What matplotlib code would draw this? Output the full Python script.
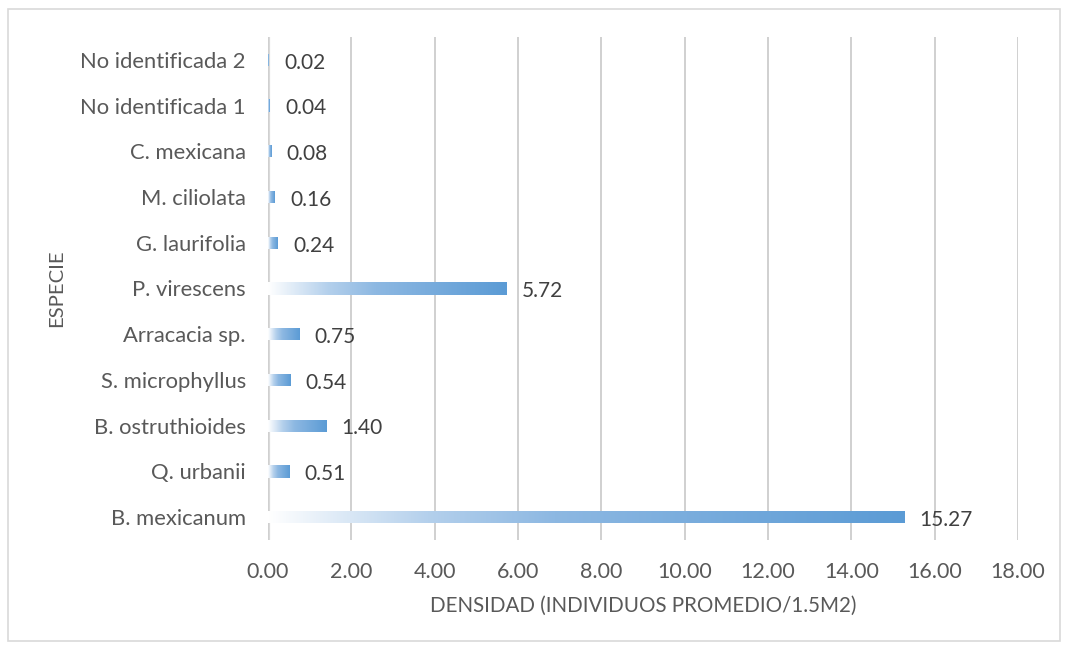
import matplotlib.pyplot as plt
import numpy as np
from matplotlib.colors import LinearSegmentedColormap
from matplotlib.patches import Rectangle

especies = ["B. mexicanum", "Q. urbanii", "B. ostruthioides", "S. microphyllus",
            "Arracacia sp.", "P. virescens", "G. laurifolia", "M. ciliolata",
            "C. mexicana", "No identificada 1", "No identificada 2"]
densidad = [15.27, 0.51, 1.40, 0.54, 0.75, 5.72, 0.24, 0.16, 0.08, 0.04, 0.02]
xticks = [0, 2, 4, 6, 8, 10, 12, 14, 16, 18]

plt.rcParams['font.family'] = ['Lato', 'DejaVu Sans']
txt = "#595959"

# white -> blue fill along each bar
grad = LinearSegmentedColormap.from_list(
    "barfill", [(0, "#ffffff"), (0.25, "#b4d0ec"), (0.45, "#8db8e2"), (1, "#5b9bd5")])

fig = plt.figure(figsize=(10.68, 6.49), dpi=100)
ax = fig.add_axes([268 / 1068, 109 / 649, 750 / 1068, 503 / 649])

h = 0.27
ypos = np.arange(len(especies))
ramp = np.linspace(0, 1, 256).reshape(1, -1)
for y, v in zip(ypos, densidad):
    im = ax.imshow(ramp, cmap=grad, aspect="auto", interpolation="bilinear",
                   extent=[0, v, y - h / 2, y + h / 2], zorder=3)
    clip = Rectangle((0, y - h / 2), v, h, transform=ax.transData, fc="none", ec="none")
    ax.add_patch(clip)
    im.set_clip_path(clip)
    ax.annotate(f"{v:.2f}", (v, y), xytext=(11, -2), textcoords="offset points",
                va="center", ha="left", fontsize=15, color="#404040")

ax.set_xlim(0, 18)
ax.set_ylim(-0.5, len(especies) - 0.5)
ax.set_xticks(xticks)
ax.set_xticklabels([f"{t:.2f}" for t in xticks], fontsize=15.5, color=txt)
ax.set_yticks(ypos)
ax.set_yticklabels(especies, fontsize=15.8, color=txt)
ax.tick_params(axis="y", length=0, pad=16)
ax.tick_params(axis="x", length=0, pad=16)
for s in ax.spines.values():
    s.set_visible(False)
ax.grid(axis="x", color="#d0d0d0", linewidth=1.4, zorder=0)
ax.axvline(0, color="#d9d9d9", linewidth=3, zorder=1)
ax.set_xlabel("DENSIDAD (INDIVIDUOS PROMEDIO/1.5M2)", fontsize=14.8, color=txt, labelpad=10)
ax.set_ylabel("ESPECIE", fontsize=14.6, color=txt)
ax.yaxis.set_label_coords(-0.27, 0.5)

# light frame round the whole chart
fig.patches.append(Rectangle((8 / 1068, 8 / 649), 1052 / 1068, 632 / 649,
                             transform=fig.transFigure, fill=False,
                             ec="#d9d9d9", lw=1.2))

fig.savefig("out.png", dpi=100)
